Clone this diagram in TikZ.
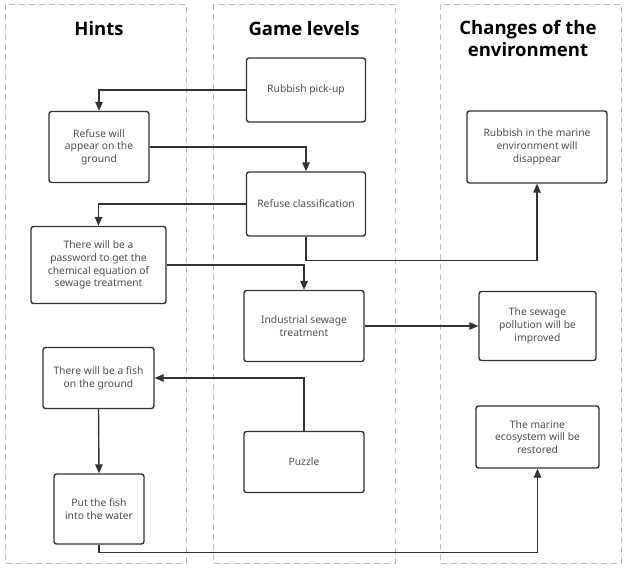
\documentclass[tikz,border=0pt]{standalone}
\usepackage{fontspec}
\setmainfont{Noto Sans}
\newfontfamily\titlefont{Open Sans}
\definecolor{linegray}{RGB}{51,51,51}
\definecolor{textgray}{RGB}{80,80,80}
\definecolor{lanegray}{RGB}{190,190,190}
\usetikzlibrary{arrows.meta}

\begin{document}
\begin{tikzpicture}[
  x=1pt, y=-1pt,
  lane/.style={draw=lanegray, dash pattern=on 6pt off 4pt, line width=0.9pt},
  title/.style={align=center, font=\titlefont\fontsize{18.5}{22}\selectfont\bfseries},
  stage/.style={draw=linegray, line width=1.4pt, rounded corners=2.5pt, fill=white, align=center, text=textgray, inner sep=0pt, font=\fontsize{10.3}{12.7}\selectfont},
  flow/.style={-{Triangle[length=9pt, width=7.5pt]}, line width=1.4pt, draw=linegray}
]
  \useasboundingbox (0,0) rectangle (627,569);

  % Swimlanes
  \draw[lane] (5,4) rectangle (186,563);
  \draw[lane] (213,4) rectangle (395,563);
  \draw[lane] (440,4) rectangle (621,563);

  % Lane titles
  \node[title] (thints) at (99,29) {Hints};
  \node[title] (tlevels) at (304,29) {Game levels};
  \node[title] (tchanges) at (528,39) {Changes of the\\environment};

  % Game levels
  \node[stage, minimum width=119pt, minimum height=64pt] (pickup) at (306,90) {Rubbish pick-up};
  \node[stage, minimum width=119pt, minimum height=64pt] (classify) at (306,204) {Refuse classification};
  \node[stage, minimum width=120pt, minimum height=71pt] (industrial) at (304,326) {Industrial sewage\\treatment};
  \node[stage, minimum width=120pt, minimum height=61pt] (puzzle) at (304,462) {Puzzle};

  % Hints
  \node[stage, minimum width=100pt, minimum height=71pt] (refground) at (99,147) {Refuse will\\appear on the\\ground};
  \node[stage, minimum width=135pt, minimum height=77pt] (password) at (98.5,265) {There will be a\\password to get the\\chemical equation of\\sewage treatment};
  \node[stage, minimum width=111pt, minimum height=61pt] (fish) at (98.5,378) {There will be a fish\\on the ground};
  \node[stage, minimum width=90pt, minimum height=70pt] (putfish) at (99,509) {Put the fish\\into the water};

  % Changes of the environment
  \node[stage, minimum width=140pt, minimum height=72pt] (disappear) at (537,147) {Rubbish in the marine\\environment will\\disappear};
  \node[stage, minimum width=117pt, minimum height=69pt] (pollution) at (537.5,326) {The sewage\\pollution will be\\improved};
  \node[stage, minimum width=123pt, minimum height=62pt] (restored) at (537.5,437) {The marine\\ecosystem will be\\restored};

  % Connectors
  \draw[flow] (pickup.west) -| (refground.north);
  \draw[flow] (refground.east) -| (classify.north);
  \draw[flow] (classify.west) -| (password.north);
  \draw[flow] (classify.south) -- ++(0,24) -| (disappear.south);
  \draw[flow] (password.east) -| (industrial.north);
  \draw[flow] (industrial.east) -- (pollution.west);
  \draw[flow] (puzzle.north) |- (fish.east);
  \draw[flow] (fish.south) -- (putfish.north);
  \draw[flow] (putfish.south) -- ++(0,8) -| (restored.south);
\end{tikzpicture}
\end{document}
